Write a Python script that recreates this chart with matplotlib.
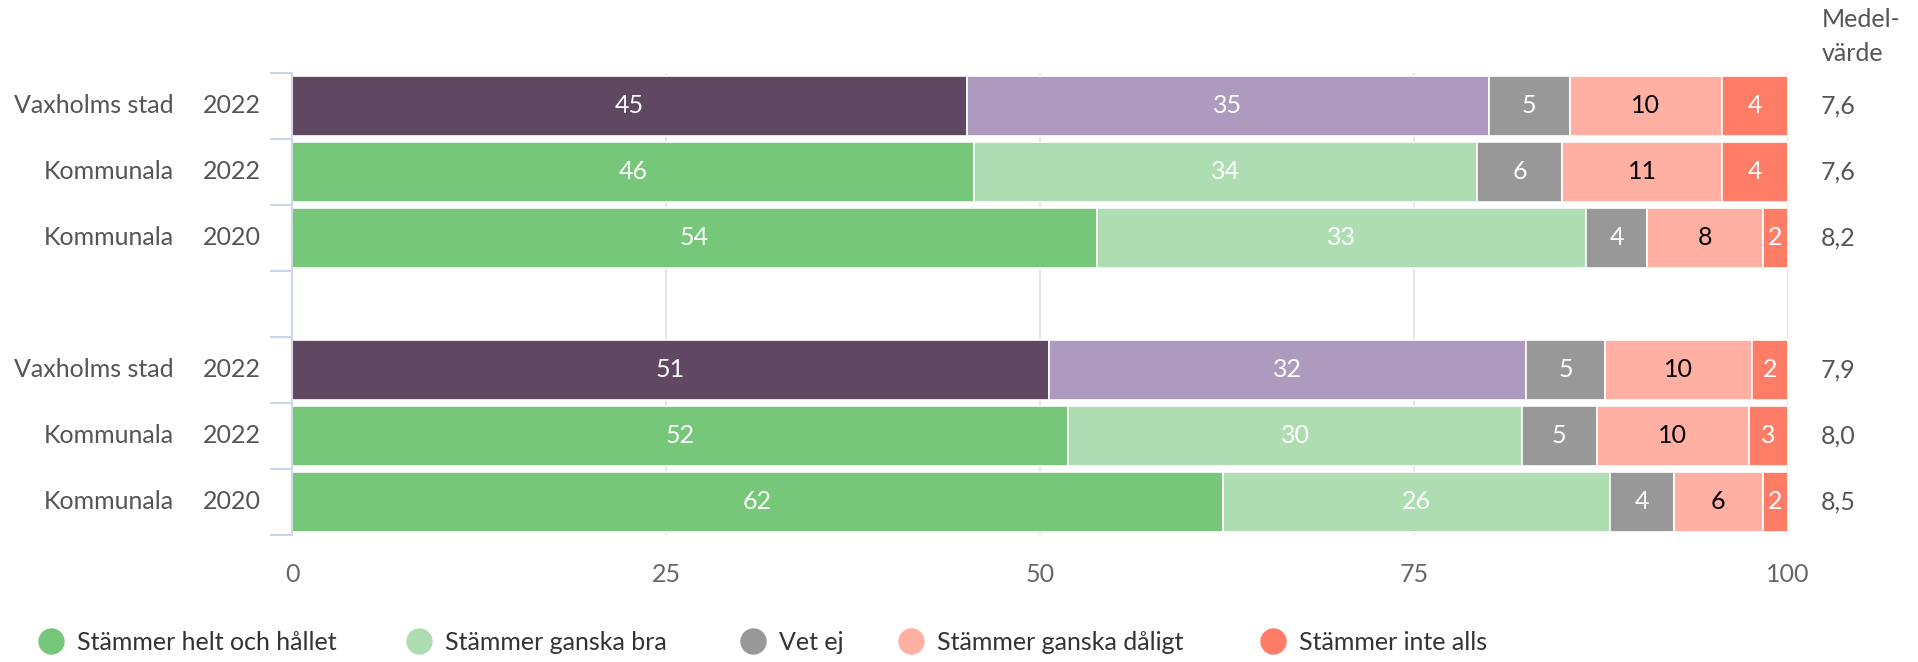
import matplotlib
matplotlib.use("Agg")
import matplotlib.pyplot as plt
from matplotlib.lines import Line2D
from matplotlib.transforms import blended_transform_factory

plt.rcParams["font.family"] = ["Lato", "DejaVu Sans"]

# rows, top to bottom (slot 3 is an empty gap)
groups = ["Vaxholms stad", "Kommunala", "Kommunala", "Vaxholms stad", "Kommunala", "Kommunala"]
years = ["2022", "2022", "2020", "2022", "2022", "2020"]
slots = [0, 1, 2, 4, 5, 6]
categories = ["Stämmer helt och hållet", "Stämmer ganska bra", "Vet ej",
              "Stämmer ganska dåligt", "Stämmer inte alls"]
# shares in percent, per row
shares = [
    [45.1, 34.9, 5.4, 10.2, 4.4],
    [45.6, 33.6, 5.7, 10.7, 4.4],
    [53.8, 32.7, 4.1, 7.7, 1.7],
    [50.6, 31.9, 5.3, 9.8, 2.4],
    [51.9, 30.3, 5.0, 10.2, 2.6],
    [62.2, 25.9, 4.3, 5.9, 1.7],
]
means = ["7,6", "7,6", "8,2", "7,9", "8,0", "8,5"]

green_cols = ["#76c77a", "#aeddb2", "#989898", "#ffb0a3", "#ff7c66"]
purple_cols = ["#614862", "#ae9abf", "#989898", "#ffb0a3", "#ff7c66"]
txt_cols = ["white", "white", "white", "black", "white"]
fs = 18

fig = plt.figure(figsize=(19.18, 6.62), dpi=100)
ax = fig.add_axes([292 / 1918, 1 - 534.8 / 662, 1496 / 1918, 462 / 662])

for r, row in enumerate(shares):
    cols = purple_cols if groups[r].startswith("Vaxholms") else green_cols
    left = 0
    for k, v in enumerate(row):
        ax.barh(slots[r], v, left=left, height=0.9, color=cols[k],
                edgecolor="white", linewidth=1.2, zorder=2)
        ax.text(left + v / 2, slots[r], str(round(v)), ha="center", va="center",
                fontsize=fs, color=txt_cols[k], zorder=3)
        left += v

ax.set_xlim(0, 100)
ax.set_ylim(6.5, -0.5)
ax.set_xticks([0, 25, 50, 75, 100])
ax.tick_params(axis="x", length=0, pad=20, labelsize=fs, labelcolor="#666666")
ax.set_yticks([s - 0.5 for s in range(8)])
ax.set_yticklabels([])
ax.tick_params(axis="y", length=16, width=1.5, color="#ccd6eb")
ax.grid(axis="x", color="#e6e6e6", linewidth=1.5, zorder=0)
ax.set_axisbelow(True)
for side in ["top", "right", "bottom"]:
    ax.spines[side].set_visible(False)
ax.spines["left"].set_color("#d0d8e8")
ax.spines["left"].set_linewidth(1.5)

# row labels and means
tr = blended_transform_factory(fig.transFigure, ax.transData)
for r in range(len(groups)):
    fig.text(174 / 1918, slots[r], groups[r], transform=tr, ha="right", va="center",
             fontsize=fs, color="#555555")
    fig.text(261 / 1918, slots[r], years[r], transform=tr, ha="right", va="center",
             fontsize=fs, color="#555555")
    ax.text(102.2, slots[r], means[r], ha="left", va="center", fontsize=fs,
            color="#555555", clip_on=False)

fig.text(1822 / 1918, 1 - 8 / 662, "Medel-\nvärde", ha="left", va="top",
         fontsize=fs, color="#555555", linespacing=1.6)

# legend, one entry per column
leg_x = [38, 406, 740, 898, 1260]
for k, name in enumerate(categories):
    h = Line2D([], [], marker="o", linestyle="", markersize=18, color=green_cols[k])
    leg = fig.legend([h], [name], loc="center left",
                     bbox_to_anchor=(leg_x[k] / 1918, 1 - 642 / 662),
                     frameon=False, fontsize=fs, handlelength=1.0,
                     handletextpad=0.55, borderpad=0, borderaxespad=0)
    for t in leg.get_texts():
        t.set_color("#333333")

fig.savefig("out.png", dpi=100)
